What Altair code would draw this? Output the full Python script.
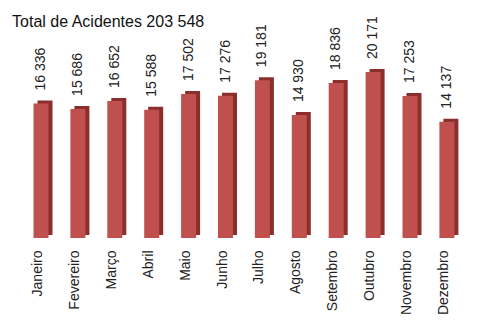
import altair as alt
import pandas as pd

months = ["Janeiro", "Fevereiro", "Março", "Abril", "Maio", "Junho",
          "Julho", "Agosto", "Setembro", "Outubro", "Novembro", "Dezembro"]
values = [16336, 15686, 16652, 15588, 17502, 17276,
          19181, 14930, 18836, 20171, 17253, 14137]
labels = ["16 336", "15 686", "16 652", "15 588", "17 502", "17 276",
          "19 181", "14 930", "18 836", "20 171", "17 253", "14 137"]
title_text = "Total de Acidentes 203 548"

df = pd.DataFrame({"mes": months, "valor": values, "rotulo": labels})

FONT = "Liberation Sans"
W = 442.8
H = 208

x = alt.X("mes:N", sort=months, scale=alt.Scale(paddingInner=0, paddingOuter=0),
          axis=alt.Axis(title=None, labelAngle=270, labelFont=FONT, labelFontSize=14,
                        labelColor="#222222", domain=False, ticks=False,
                        labelPadding=12, labelOffset=-3))
y = alt.Y("valor:Q", scale=alt.Scale(domain=[0, 25273], nice=False, zero=True),
          axis=None)

base = alt.Chart(df)

back = base.mark_bar(size=15, color="#8b2e2c", xOffset=4, yOffset=-3, y2Offset=-3).encode(x=x, y=y)
front = base.mark_bar(size=15, color="#c0504d").encode(x=x, y=y)
text = base.mark_text(angle=270, align="left", baseline="middle", dx=13,
                      font=FONT, fontSize=14, color="#222222").encode(
    x=x, y=y, text="rotulo:N")

title = alt.Chart(pd.DataFrame({"t": [title_text]})).mark_text(
    align="left", baseline="alphabetic", font=FONT, fontSize=16, color="#111111"
).encode(x=alt.value(-10.5), y=alt.value(-3), text="t:N")

chart = alt.layer(back, front, text, title).properties(
    width=W, height=H,
    background="white",
    autosize=alt.AutoSizeParams(type="none"),
    padding={"left": 14.55, "top": 22, "right": 10.65, "bottom": 83},
).configure_view(stroke=None)

chart.save("out.html", embed_options={"renderer": "svg", "actions": False})
